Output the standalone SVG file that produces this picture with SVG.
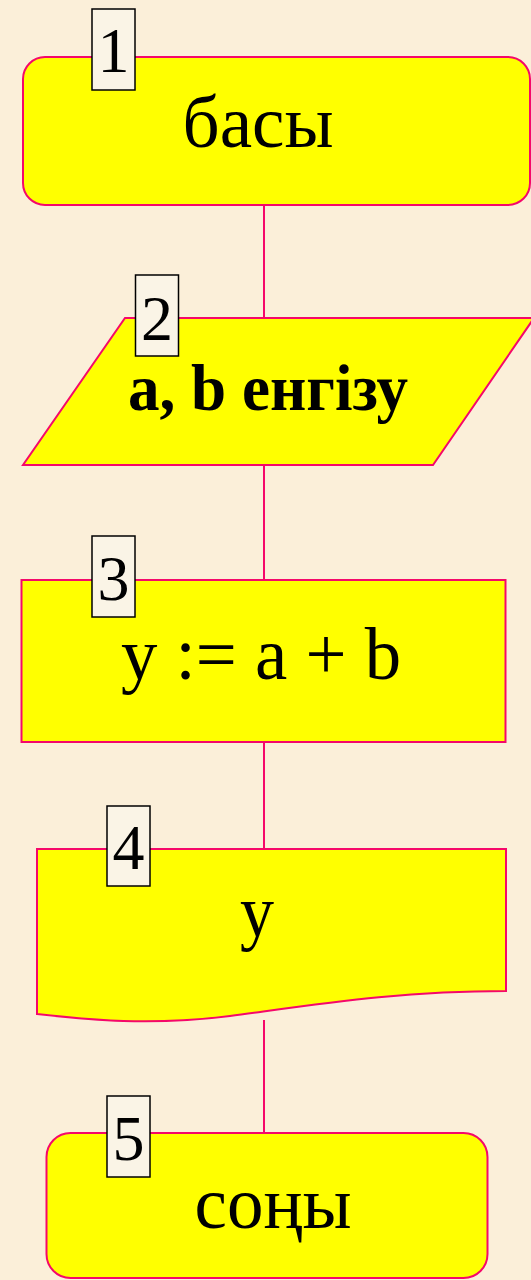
<svg xmlns="http://www.w3.org/2000/svg" width="531" height="1280" viewBox="0 0 531 1280">
<style>
.shape{fill:#FFFF00;stroke:#F5086A;stroke-width:2}
.conn{stroke:#F5086A;stroke-width:2;fill:none}
.tag{fill:#FAF4E6;stroke:#000;stroke-width:1.5}
.num{font-family:"Liberation Serif","Times New Roman",serif;font-size:64px;fill:#000;text-anchor:middle}
.lbl{font-family:"Liberation Serif","Times New Roman",serif;font-size:74px;fill:#000;text-anchor:middle}
.bold{font-weight:bold;font-size:66px}
</style>
<rect x="0" y="0" width="531" height="1280" fill="#FBEFD9"/>
<g id="connectors">
<line class="conn" x1="264" y1="205" x2="264" y2="318"/>
<line class="conn" x1="264" y1="465" x2="264" y2="580"/>
<line class="conn" x1="264" y1="742" x2="264" y2="849"/>
<line class="conn" x1="264" y1="1020" x2="264" y2="1133"/>
</g>
<g id="node1">
<rect class="shape" x="23" y="57" width="507" height="148" rx="22"/>
<text class="lbl" x="258" y="147" textLength="151" lengthAdjust="spacingAndGlyphs">басы</text>
<rect class="tag" x="92" y="9" width="43" height="81"/>
<text class="num" x="113.5" y="72">1</text>
</g>
<g id="node2">
<polygon class="shape" points="125,318 534,318 433,465 23,465"/>
<text class="lbl bold" x="268" y="410" textLength="280" lengthAdjust="spacingAndGlyphs">a, b енгізу</text>
<rect class="tag" x="135.5" y="275" width="43" height="81"/>
<text class="num" x="157" y="339.5">2</text>
</g>
<g id="node3">
<rect class="shape" x="21.5" y="580" width="484" height="162"/>
<text class="lbl" x="261" y="679" textLength="280" lengthAdjust="spacingAndGlyphs">y := a + b</text>
<rect class="tag" x="92" y="536" width="43" height="81"/>
<text class="num" x="113.5" y="599.5">3</text>
</g>
<g id="node4">
<path class="shape" d="M37,849 H506 V991 C400,991 320,1004 230,1016 C150,1026 90,1020 37,1014 Z"/>
<text class="lbl" x="257" y="936" textLength="34" lengthAdjust="spacingAndGlyphs">y</text>
<rect class="tag" x="107" y="806" width="43" height="80"/>
<text class="num" x="128.5" y="868.5">4</text>
</g>
<g id="node5">
<rect class="shape" x="46.5" y="1133" width="441" height="145" rx="24"/>
<text class="lbl" x="273" y="1228" textLength="157" lengthAdjust="spacingAndGlyphs">соңы</text>
<rect class="tag" x="107" y="1096" width="43" height="81"/>
<text class="num" x="128.5" y="1159.5">5</text>
</g>
</svg>
